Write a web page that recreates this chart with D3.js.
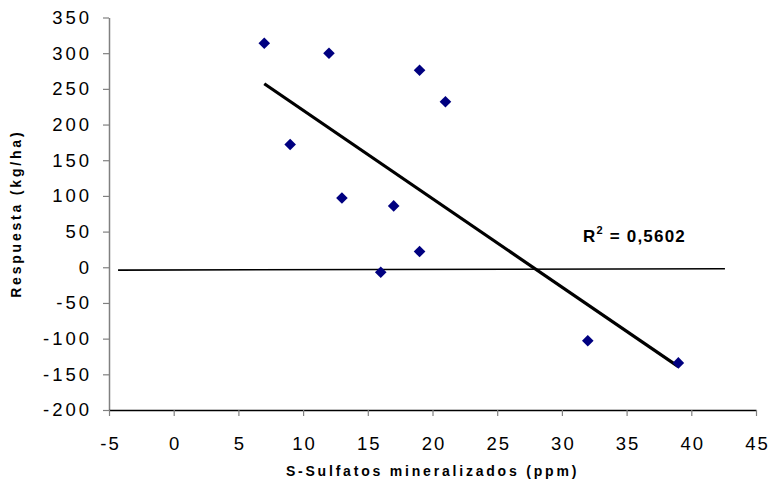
<!DOCTYPE html>
<html>
<head>
<meta charset="utf-8">
<script src="https://cdn.jsdelivr.net/npm/d3@7"></script>
<style>
  body { margin: 0; background: #fff; }
  text { font-family: "Liberation Sans", Arial, sans-serif; }
</style>
</head>
<body>
<svg id="chart" width="769" height="492"></svg>
<script>
// data
const sulfatos = [7, 12, 19, 21, 9, 13, 17, 19, 16, 32, 39];
const respuesta = [314, 300, 276, 232, 172, 97, 86, 22, -7, -103, -134];
const flatLineX = [-4.3, 42.6];
const flatLineY = [-4, -2];
const xTicks = [-5, 0, 5, 10, 15, 20, 25, 30, 35, 40, 45];
const yTicks = [-200, -150, -100, -50, 0, 50, 100, 150, 200, 250, 300, 350];
const r2Label = "0,5602";

const svg = d3.select("#chart");
const plotL = 109, plotR = 756, plotT = 17.5, plotB = 410;

const x = d3.scaleLinear().domain([-5, 45]).range([plotL, plotR]);
const y = d3.scaleLinear().domain([-200, 350]).range([plotB, plotT]);

// axes
const yAxis = svg.append("g").attr("transform", "translate(" + plotL + ",0)")
  .call(d3.axisLeft(y).tickValues(yTicks).tickFormat(d => String(d))
    .tickSize(6).tickPadding(11).tickSizeOuter(0));
yAxis.select(".domain").attr("stroke", "#808080").attr("stroke-width", 1.5);
yAxis.selectAll(".tick line").attr("stroke", "#808080").attr("stroke-width", 1.2);
yAxis.selectAll("text").attr("font-size", 18.5).attr("fill", "#000")
  .attr("letter-spacing", "3px");

const xAxis = svg.append("g").attr("transform", "translate(0," + plotB + ")")
  .call(d3.axisBottom(x).tickValues(xTicks).tickFormat(d => String(d))
    .tickSize(6).tickPadding(21).tickSizeOuter(0));
xAxis.select(".domain").attr("stroke", "#000").attr("stroke-width", 1.5);
xAxis.selectAll(".tick line").attr("stroke", "#808080").attr("stroke-width", 1.2);
xAxis.selectAll("text").attr("font-size", 18.5).attr("fill", "#000")
  .attr("letter-spacing", "2px").attr("dx", "1px");

// axis titles
svg.append("text")
  .attr("x", 432.5).attr("y", 476)
  .attr("text-anchor", "middle")
  .attr("font-size", 14).attr("font-weight", "bold").attr("letter-spacing", "2.8px")
  .text("S-Sulfatos mineralizados (ppm)");

svg.append("text")
  .attr("transform", "translate(21," + ((plotT + plotB) / 2) + ") rotate(-90)")
  .attr("text-anchor", "middle")
  .attr("font-size", 14).attr("font-weight", "bold").attr("letter-spacing", "2.8px")
  .text("Respuesta (kg/ha)");

// thin near-zero line
svg.append("line")
  .attr("x1", x(flatLineX[0])).attr("y1", y(flatLineY[0]))
  .attr("x2", x(flatLineX[1])).attr("y2", y(flatLineY[1]))
  .attr("stroke", "#000").attr("stroke-width", 1.6);

// linear trend (least squares on the points)
const mx = d3.mean(sulfatos), my = d3.mean(respuesta);
let sxy = 0, sxx = 0;
sulfatos.forEach((v, i) => { sxy += (v - mx) * (respuesta[i] - my); sxx += (v - mx) * (v - mx); });
const slope = sxy / sxx, icpt = my - slope * mx;
const x0 = d3.min(sulfatos), x1 = d3.max(sulfatos);
svg.append("line")
  .attr("x1", x(x0)).attr("y1", y(icpt + slope * x0))
  .attr("x2", x(x1)).attr("y2", y(icpt + slope * x1))
  .attr("stroke", "#000").attr("stroke-width", 3.2);

// points
svg.append("g").selectAll("path")
  .data(sulfatos.map((v, i) => [v, respuesta[i]]))
  .join("path")
  .attr("transform", d => "translate(" + x(d[0]) + "," + y(d[1]) + ")")
  .attr("d", "M0,-5.8L5.8,0L0,5.8L-5.8,0Z")
  .attr("fill", "#000080");

// R² label
const r2 = svg.append("text")
  .attr("x", 583).attr("y", 242)
  .attr("font-size", 17).attr("font-weight", "bold").attr("letter-spacing", "1.2px");
r2.append("tspan").text("R");
r2.append("tspan").attr("dy", -8).attr("font-size", 11).text("2");
r2.append("tspan").attr("dy", 8).text(" = " + r2Label);
</script>
</body>
</html>
